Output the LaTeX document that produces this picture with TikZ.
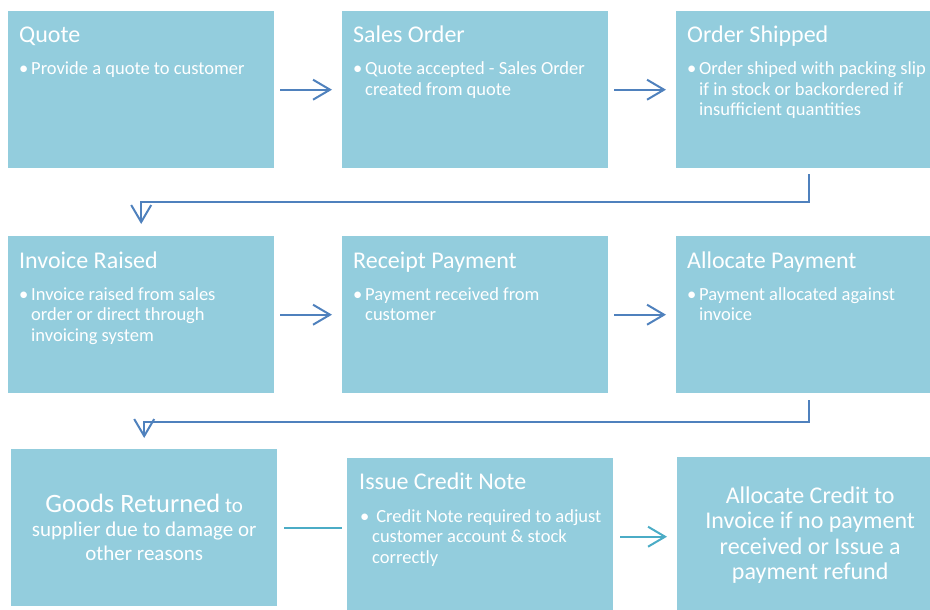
\documentclass[tikz,border=0pt]{standalone}
\usepackage{fontspec}
\setmainfont{Carlito}
\usetikzlibrary{arrows.meta}
\definecolor{boxfill}{HTML}{93CDDD}
\definecolor{flowblue}{HTML}{4F81BD}
\definecolor{flowteal}{HTML}{4BACC6}
\newcommand{\bul}[1]{\begin{tabular}[t]{@{}l@{}l@{}}\makebox[12pt][l]{\textbullet}&#1\end{tabular}}
\tikzset{
  box/.style={fill=boxfill, minimum width=266pt, minimum height=157pt, anchor=north west, inner sep=0pt},
  title/.style={text=white, font=\fontsize{24}{28}\selectfont, anchor=base west, inner sep=0pt},
  body/.style={text=white, font=\fontsize{18.5}{20.5}\selectfont, anchor=base west, inner sep=0pt},
  flow/.style={draw=flowblue, line width=2pt, -{Straight Barb[length=17pt,width=20pt]}},
  flowlink/.style={draw=flowteal, line width=2pt}
}
\begin{document}
\begin{tikzpicture}[x=1pt,y=-1pt]
\useasboundingbox (0,0) rectangle (930,610);
\clip (0,0) rectangle (930,610);
\node[box] (quote) at (8,11) {};
\node[box] (sales) at (342,11) {};
\node[box] (ship) at (676,11) {};
\node[box] (inv) at (8,236) {};
\node[box] (rec) at (342,236) {};
\node[box] (apay) at (676,236) {};
\node[box] (goods) at (11,449) {};
\node[box] (credit) at (347,458) {};
\node[box] (acred) at (677,457) {};
\node[title] (quoteT) at ([shift={(11,32)}]quote.north west) {Quote};
\node[body] (quoteB) at ([shift={(11,64)}]quote.north west) {\bul{Provide a quote to customer}};
\node[title] (salesT) at ([shift={(11,32)}]sales.north west) {Sales Order};
\node[body] (salesB) at ([shift={(11,64)}]sales.north west) {\bul{Quote accepted - Sales Order\\&created from quote}};
\node[title] (shipT) at ([shift={(11,32)}]ship.north west) {Order Shipped};
\node[body] (shipB) at ([shift={(11,64)}]ship.north west) {\bul{Order shiped with packing slip\\&if in stock or backordered if\\&insufficient quantities}};
\node[title] (invT) at ([shift={(11,32)}]inv.north west) {Invoice Raised};
\node[body] (invB) at ([shift={(11,64)}]inv.north west) {\bul{Invoice raised from sales\\&order or direct through\\&invoicing system}};
\node[title] (recT) at ([shift={(11,32)}]rec.north west) {Receipt Payment};
\node[body] (recB) at ([shift={(11,64)}]rec.north west) {\bul{Payment received from\\&customer}};
\node[title] (apayT) at ([shift={(11,32)}]apay.north west) {Allocate Payment};
\node[body] (apayB) at ([shift={(11,64)}]apay.north west) {\bul{Payment allocated against\\&invoice}};
\node[text=white, anchor=base, inner sep=0pt, font=\fontsize{21}{24}\selectfont] (goodsT) at ([shift={(0,63)}]goods.north)
  {\begin{tabular}[t]{@{}c@{}}{\fontsize{26.5}{28}\selectfont Goods Returned} to\\supplier due to damage or\\other reasons\end{tabular}};
\node[title] (creditT) at ([shift={(12,31)}]credit.north west) {Issue Credit Note};
\node[body] (creditB) at ([shift={(13,64)}]credit.north west) {\bul{\ Credit Note required to adjust\\&customer account \& stock\\&correctly}};
\node[text=white, anchor=base, inner sep=0pt, font=\fontsize{24}{25.5}\selectfont] (acredT) at ([shift={(0,46)}]acred.north)
  {\begin{tabular}[t]{@{}c@{}}Allocate Credit to\\Invoice if no payment\\received or Issue a\\payment refund\end{tabular}};
\draw[flow] ([xshift=6pt]quote.east) -- ([xshift=-10pt]sales.west);
\draw[flow] ([xshift=6pt]sales.east) -- ([xshift=-10pt]ship.west);
\draw[flow] ([yshift=-6pt]ship.south) -- ++(0,28) -| ([yshift=12pt]inv.north);
\draw[flow] ([xshift=6pt]inv.east) -- ([xshift=-10pt]rec.west);
\draw[flow] ([xshift=6pt]rec.east) -- ([xshift=-10pt]apay.west);
\draw[flow] ([yshift=-7pt]apay.south) -- ++(0,22) -| ([yshift=11pt]goods.north);
\draw[flowlink] ([xshift=7pt]goods.east) -- ([xshift=-5pt]goods.east -| credit.west);
\draw[flowlink, -{Straight Barb[length=17pt,width=20pt]}] ([xshift=7pt]credit.east) -- ([xshift=-10pt]credit.east -| acred.west);
\end{tikzpicture}
\end{document}
